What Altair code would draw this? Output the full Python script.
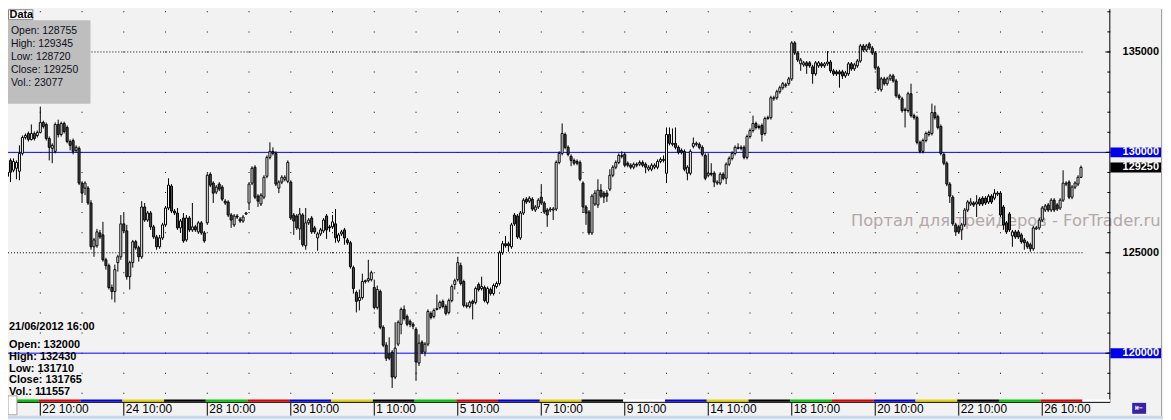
import altair as alt
import pandas as pd

# ---------------- data (hourly candles) ----------------
opens = [
    129500, 129010, 129600, 129110, 129210, 129060, 129950, 130740, 130940, 130640, 130940, 130840,
    130990, 131490, 131390, 130690, 130200, 130050, 131390, 130890, 131440, 131240, 130540, 130590, 130100, 130200,
    128470, 128220, 128220, 127480, 125300, 125350, 125990, 125890, 124650, 124360, 123270, 123070, 124510, 124800,
    126440, 126090, 123810, 124510, 125550, 125250, 124800, 127280, 126630, 126980, 126290, 125790, 125300, 125740,
    126390, 127230, 128320, 127080, 126980, 126240, 126730, 125640, 126730, 126140, 126290, 126040, 126490, 125990,
    126490, 128910, 128470, 128020, 128420, 128270, 127570, 127530, 126880, 126390, 126830, 126680, 126580, 126930,
    127480, 128470, 129260, 127820, 127430, 127770, 128810, 129750, 130050, 129950, 128220, 128520, 128660, 128560,
    128520, 126880, 126830, 126190, 126880, 125350, 126490, 126730, 126240, 125740, 125940, 126090, 126830, 126290,
    126290, 126440, 125590, 125940, 126140, 125640, 125500, 124260, 123020, 122620, 122770, 123570, 123610, 123660,
    123270, 122280, 123070, 121290, 120400, 119950, 120050, 118810, 120450, 121440, 122180, 121830, 121590, 121440,
    121190, 119510, 120550, 120050, 120450, 121980, 121830, 122180, 122280, 122580, 122330, 122030, 122620, 123420,
    123660, 124360, 123570, 122330, 122330, 122580, 122530, 123420, 123220, 123270, 122530, 123170, 122970, 123320,
    123470, 125000, 125450, 125450, 125300, 126880, 126830, 125740, 126980, 127670, 127570, 127670, 127130, 127280,
    127770, 127480, 127130, 127130, 127130, 127180, 129500, 129950, 130890, 130250, 129800, 129600, 129550, 129500,
    128470, 127280, 127030, 125990, 127430, 127380, 128120, 127970, 127970, 128170, 128860, 129260, 129500, 129800,
    129900, 129460, 129360, 129260, 129410, 129410, 129500, 129410, 129160, 129160, 129260, 129260, 129550, 129600,
    128960, 130890, 130400, 130450, 130250, 130100, 130050, 128960, 128960, 130300, 130400, 130400, 130250, 129850,
    128860, 128960, 128960, 128470, 128470, 128910, 128710, 129410, 129700, 129950, 130200, 130200, 130250, 129750,
    130790, 131090, 131440, 131240, 131340, 130940, 131680, 131730, 132670, 132720, 133020, 133220, 133320, 133420,
    133660, 135450, 134950, 134410, 134360, 134460, 134460, 134260, 133910, 134310, 134410, 134310, 134410, 134500,
    134060, 134010, 134010, 134010, 133810, 133910, 134410, 134160, 134310, 134550, 135300, 135100, 135400, 135200,
    134950, 134210, 133120, 133660, 133420, 133660, 133810, 133560, 132820, 132670, 132080, 132080, 132920, 131830,
    131730, 130500, 130050, 130590, 130890, 130940, 131980, 131780, 131290, 129900, 129460, 128420, 127770, 126390,
    126290, 126140, 126390, 127130, 127430, 127480, 127430, 127670, 127720, 127720, 127530, 127820, 127720, 127920,
    127970, 127280, 126490, 126930, 125840, 126040, 126040, 125890, 125640, 125500, 125400, 125200, 126190, 126240,
    126630, 127130, 127380, 127130, 127620, 127380, 127230, 127620, 128420, 128520, 127770, 128270, 128420, 128755,
]
highs = [
    129700, 129110, 129700, 129700, 129600, 130350, 130840, 130940, 131040, 131390, 131040, 131090,
    132280, 131580, 131490, 130790, 130450, 131490, 131630, 131530, 131530, 131340, 130640, 130690, 130350, 130300,
    128560, 128560, 128320, 127620, 125740, 126190, 126140, 126540, 124750, 124460, 123420, 124410, 124900, 126880,
    126980, 126390, 124600, 125640, 125640, 125350, 127570, 127480, 127080, 127080, 126390, 125890, 125890, 126490,
    127330, 128710, 128420, 127180, 127230, 126680, 126980, 126880, 126830, 127480, 126390, 126580, 126580, 126090,
    128960, 129010, 128560, 128370, 128520, 128370, 127670, 127620, 126980, 126930, 126930, 126780, 126880, 127030,
    128520, 129310, 129360, 127920, 127970, 128860, 129850, 130500, 130250, 130050, 128610, 128860, 128860, 129600,
    128610, 126980, 126930, 127230, 126980, 127230, 126730, 126830, 126340, 126040, 126240, 126730, 126930, 126390,
    126880, 127180, 125990, 126140, 126240, 125740, 125590, 124360, 123120, 123170, 123960, 123660, 124650, 124110,
    123660, 123370, 123170, 121390, 120550, 120790, 120150, 121540, 121630, 122280, 122380, 121930, 121680, 121540,
    121290, 120940, 120640, 120550, 122180, 122080, 122230, 122920, 122620, 122670, 122430, 122720, 123420, 123710,
    124800, 124510, 123660, 122530, 122620, 122670, 123320, 123520, 123810, 123370, 123320, 123270, 123470, 123570,
    125100, 125590, 125840, 125550, 126490, 126980, 126930, 127080, 127720, 127770, 127820, 127770, 127380, 127720,
    128420, 127570, 127230, 127280, 127280, 129600, 130050, 131440, 130990, 130350, 129900, 129700, 129650, 129600,
    128560, 127380, 127130, 127920, 128120, 128660, 128420, 128070, 128120, 129160, 129360, 129600, 129950, 130050,
    130000, 129550, 129460, 129500, 129500, 129600, 129600, 129500, 129360, 129460, 129460, 129650, 129750, 129850,
    131240, 131240, 131190, 131240, 130350, 130200, 130150, 129360, 130150, 130740, 130540, 130500, 130350, 129950,
    129950, 129460, 129060, 128610, 129010, 129010, 129500, 129800, 130050, 130350, 130450, 130350, 130350, 130890,
    131190, 131830, 131530, 131390, 131440, 131780, 131830, 132820, 132820, 133120, 133320, 133510, 133470, 133760,
    135540, 135540, 135050, 134700, 134550, 134550, 134550, 134360, 134550, 134550, 134500, 134500, 135050, 134600,
    134160, 134110, 134110, 134110, 134060, 134500, 134500, 134460, 134650, 135400, 135400, 135400, 135490, 135300,
    135050, 134310, 133760, 133760, 133760, 133910, 133910, 133660, 132920, 132770, 132230, 133020, 133420, 131930,
    131830, 130590, 130690, 131040, 131090, 132430, 132330, 131880, 131390, 130000, 129550, 128520, 127870, 126490,
    126390, 126490, 127230, 127620, 127720, 127570, 127870, 127770, 127820, 127820, 127920, 127920, 128170, 128070,
    128070, 127380, 126580, 127030, 126140, 126140, 126140, 125990, 125740, 125590, 125500, 126340, 126340, 126730,
    127330, 127430, 127480, 127720, 127720, 127480, 127720, 129110, 128560, 128610, 128370, 128560, 128860, 129345,
]
lows = [
    128860, 128610, 128520, 129010, 128660, 128610, 129850, 130640, 130540, 130590, 130590, 130740,
    130940, 131190, 130590, 129600, 129460, 129950, 130740, 130790, 130940, 130450, 130100, 129900, 130000, 128370,
    127480, 127870, 127380, 125150, 124800, 125250, 125690, 124560, 124160, 123170, 122670, 122530, 124060, 124650,
    125990, 123660, 123170, 124260, 125150, 124560, 124700, 126540, 126540, 126140, 125690, 125150, 125200, 125640,
    126290, 127130, 126980, 126880, 126140, 125990, 125500, 125550, 126040, 126040, 126040, 125940, 125890, 125500,
    126390, 128270, 127480, 127920, 128070, 127570, 127380, 126780, 126240, 126290, 126680, 126490, 126490, 126880,
    127130, 128370, 127670, 127280, 127330, 127670, 128710, 129650, 129850, 128320, 127970, 128420, 128560, 128470,
    126630, 125890, 126140, 125640, 125300, 125150, 126390, 125940, 125940, 125100, 125840, 125990, 125690, 126040,
    126190, 125500, 125500, 125840, 125400, 125400, 124210, 122970, 122030, 122130, 122670, 123470, 123520, 123570,
    122180, 122180, 121190, 120300, 119610, 119650, 118270, 118710, 120350, 120940, 121630, 121340, 121290, 121190,
    118620, 119360, 119950, 119850, 120350, 121680, 121730, 122130, 122180, 122230, 121880, 121930, 122530, 123170,
    123570, 123370, 122280, 122230, 122230, 121680, 122430, 123070, 123120, 122530, 122430, 122870, 122870, 123220,
    123370, 124900, 125250, 125050, 125200, 126340, 125690, 125640, 126880, 127430, 127480, 127080, 127030, 127180,
    127380, 126930, 126290, 127030, 126630, 127080, 129410, 129850, 130150, 129800, 129310, 129360, 129360, 128560,
    126980, 126390, 125890, 125890, 127330, 127230, 127720, 127480, 127530, 128070, 128760, 129160, 129410, 129700,
    129260, 129260, 129160, 129160, 129260, 129310, 129260, 128960, 129060, 129060, 129160, 129160, 129460, 129500,
    128470, 130350, 130300, 130150, 129900, 129900, 129060, 128610, 128860, 130200, 130300, 130150, 129800, 128610,
    128760, 128810, 128270, 128370, 128370, 128610, 128420, 129310, 129600, 129850, 130150, 130100, 129650, 129650,
    130690, 130990, 131140, 131140, 130540, 130840, 131630, 131630, 132570, 132620, 132920, 133120, 133220, 133320,
    133560, 134850, 134500, 134060, 134260, 133910, 134210, 133420, 133810, 134210, 134210, 134210, 134310, 133960,
    133810, 133810, 133220, 133660, 133710, 133810, 134060, 134060, 134210, 134460, 135000, 135000, 135100, 134850,
    134110, 133070, 133020, 133320, 133320, 133560, 133470, 132720, 132620, 131980, 131240, 131980, 131730, 131630,
    130400, 129950, 129950, 130500, 130790, 130840, 131630, 131140, 129850, 129360, 128320, 127480, 126340, 125840,
    125940, 125640, 126290, 127030, 127330, 127280, 126780, 127330, 127330, 127380, 127430, 127430, 127620, 127820,
    126780, 126140, 125940, 126040, 125300, 125690, 125690, 125450, 125150, 125200, 125050, 125100, 126140, 126140,
    126540, 127030, 127030, 127030, 127030, 127080, 127130, 127530, 128320, 127670, 127670, 128170, 128320, 128720,
]
closes = [
    128960, 128810, 129010, 129550, 129500, 129950, 130740, 130840, 130640, 130940, 130690, 130990,
    131490, 131290, 130690, 130250, 130350, 131390, 130890, 131440, 131040, 130540, 130350, 130050, 130250, 128470,
    127970, 128470, 127480, 125300, 125640, 126040, 125790, 124650, 124360, 123270, 123070, 124160, 124800, 126440,
    126090, 123810, 124510, 125550, 125250, 124800, 127280, 126630, 126980, 126290, 125790, 125300, 125740, 126390,
    127230, 128370, 127080, 126980, 126240, 126580, 125590, 126730, 126140, 126290, 126140, 126490, 125990, 125590,
    128860, 128370, 127970, 128270, 128170, 127670, 127480, 126880, 126630, 126830, 126780, 126580, 126780, 126980,
    128420, 129210, 127770, 127570, 127870, 128760, 129750, 130050, 129950, 128420, 128520, 128760, 128760, 129500,
    126730, 126580, 126240, 126930, 125400, 126490, 126630, 126040, 126040, 125940, 126140, 126630, 126140, 126240,
    126540, 125740, 125890, 126040, 125740, 125500, 124310, 123220, 122580, 122770, 123570, 123610, 123710, 124010,
    122280, 123170, 121290, 120400, 119750, 119750, 118810, 120250, 121540, 122180, 121730, 121440, 121440, 121340,
    119560, 120500, 120050, 120450, 122080, 121780, 122130, 122230, 122530, 122330, 121980, 122620, 123320, 123610,
    124510, 123470, 122380, 122380, 122530, 122480, 123220, 123170, 123320, 122620, 123220, 122970, 123370, 123470,
    125000, 125450, 125350, 125350, 126390, 126440, 125790, 126980, 127620, 127530, 127720, 127180, 127280, 127620,
    127480, 127030, 126880, 127180, 127180, 129500, 129950, 130940, 130250, 129900, 129600, 129460, 129460, 128660,
    127280, 126980, 125990, 127820, 127970, 128120, 127820, 127770, 127820, 128860, 129260, 129500, 129850, 129850,
    129360, 129360, 129260, 129410, 129360, 129500, 129360, 129260, 129260, 129360, 129360, 129550, 129650, 129650,
    130890, 130450, 130450, 130250, 130000, 130000, 129160, 129260, 130050, 130450, 130450, 130250, 129900, 128710,
    128960, 128910, 128520, 128520, 128910, 128710, 129410, 129700, 129950, 130250, 130250, 130250, 129750, 130790,
    131090, 131440, 131240, 131290, 130890, 131680, 131730, 132720, 132720, 133020, 133220, 133420, 133370, 133660,
    135450, 134950, 134600, 134600, 134460, 134310, 134310, 133910, 134460, 134460, 134310, 134410, 134500, 134060,
    133910, 133910, 133910, 133810, 133960, 134410, 134160, 134360, 134550, 135300, 135100, 135300, 135200, 134950,
    134210, 133170, 133660, 133420, 133660, 133810, 133560, 132820, 132720, 132080, 132130, 132920, 131830, 131730,
    130500, 130050, 130590, 130940, 130990, 131980, 131730, 131240, 129950, 129460, 128420, 127820, 126440, 126040,
    126040, 126390, 127130, 127530, 127530, 127380, 127530, 127430, 127430, 127480, 127820, 127530, 127970, 127970,
    126880, 126390, 126040, 126140, 126040, 125790, 125790, 125550, 125500, 125300, 125200, 126240, 126240, 126630,
    127230, 127330, 127130, 127620, 127130, 127180, 127620, 128470, 128470, 127770, 128270, 128470, 128760, 129250,
]

first_day_bars = 12          # the first (partial) session in view
bars_per_day = 14            # hourly bars per session
day_labels = ["22 10:00", "24 10:00", "28 10:00", "30 10:00", "1 10:00", "5 10:00", "7 10:00",
              "9 10:00", "14 10:00", "18 10:00", "20 10:00", "22 10:00", "26 10:00"]
day_colors = ["#00c800", "#e00000", "#0000e0", "#e6d200", "#000000", "#00c800", "#e00000",
              "#0000e0", "#e6d200", "#000000", "#00c800", "#e00000", "#0000e0", "#e6d200",
              "#000000", "#ffffff", "#0000e0", "#e6d200", "#000000", "#00c800", "#e00000",
              "#0000e0", "#e6d200", "#000000", "#00c800", "#e00000", "#ffffff"]

blue_levels = [130000, 120000]
dotted_levels = [135000, 125000]
axis_label_levels = [135000, 125000]
grid_levels = list(range(118000, 137001, 1000))

top_info = ["Open: 128755", "High: 129345", "Low: 128720", "Close: 129250", "Vol.: 23077"]
bottom_title = "21/06/2012 16:00"
bottom_info = ["Open: 132000", "High: 132430", "Low: 131710", "Close: 131765", "Vol.: 111557"]
watermark = "Портал для трейдеров - ForTrader.ru"

# ---------------- layout ----------------
W, H = 1109, 393
PRICE_PER_PX = 49.5
Y1 = 130000 + 144 * PRICE_PER_PX
Y0 = Y1 - H * PRICE_PER_PX
X0 = 3.5 / 3
X1 = (W + 3.5) / 3

xs = alt.Scale(domain=[X0, X1], nice=False, zero=False)
ys = alt.Scale(domain=[Y0, Y1], nice=False, zero=False)


def X(f):
    return alt.X(f, type="quantitative", scale=xs, axis=None)


def Y(f):
    return alt.Y(f, type="quantitative", scale=ys, axis=None)


n = len(closes)
candles = pd.DataFrame({"i": list(range(n)), "o": opens, "h": highs, "l": lows, "c": closes})
candles["dir"] = ["up" if c >= o else "down" for o, c in zip(opens, closes)]
candles["x0"] = candles["i"] - 1 / 3
candles["x1"] = candles["i"] + 1 / 3

n_days = (n - first_day_bars) // bars_per_day
day_starts = [first_day_bars + k * bars_per_day for k in range(n_days)]
edges = [X0] + [s - 0.5 for s in day_starts] + [n - 0.5, X1]
strip = pd.DataFrame({"s": edges[:-1], "e": edges[1:], "col": day_colors})
label_df = pd.DataFrame({"i": day_starts[::2], "t": day_labels})
grid_df = pd.DataFrame([{"i": s, "p": p} for s in day_starts for p in grid_levels])
dotted_df = pd.DataFrame({"p": dotted_levels, "xs": X0, "xe": n - 0.5})
blue_df = pd.DataFrame({"p": blue_levels})
tick_df = pd.DataFrame({"p": grid_levels})
major_df = pd.DataFrame({"p": [p for p in grid_levels if p % 5000 == 0]})
lab_df = pd.DataFrame({"p": axis_label_levels, "t": [str(v) for v in axis_label_levels]})
badge_df = pd.DataFrame({"p": blue_levels + [closes[-1]],
                         "t": [str(v) for v in blue_levels + [closes[-1]]],
                         "col": ["#0000e6", "#0000e6", "#000000"]})
one = pd.DataFrame({"a": [1]})

LAB_FONT = "Liberation Sans"

grid = alt.Chart(grid_df).mark_square(size=1, color="#000000", opacity=1, clip=True).encode(
    x=X("i"), y=Y("p"))

wm = alt.Chart(one).mark_text(text=watermark, align="left", baseline="middle", font="DejaVu Sans",
                              fontSize=16.4, color="#b3a8a8").encode(x=alt.value(848), y=alt.value(213))

dotted = alt.Chart(dotted_df).mark_rule(color="#000000", strokeDash=[1, 2], clip=True).encode(
    x=X("xs"), x2="xe", y=Y("p"))

blue = alt.Chart(blue_df).mark_rule(color="#0000ff", strokeWidth=1).encode(
    x=alt.value(0), x2=alt.value(W), y=Y("p"))

wicks = alt.Chart(candles).mark_rule(color="#000000", strokeWidth=1, clip=True).encode(
    x=X("i"), y=Y("l"), y2="h")

bodies = alt.Chart(candles).mark_rect(stroke="#000000", strokeWidth=1, clip=True).encode(
    x=X("x0"), x2="x1", y=Y("o"), y2="c",
    fill=alt.Fill("dir:N", scale=alt.Scale(domain=["up", "down"], range=["#ffffff", "#4d4d4d"]),
                  legend=None))

axis_line = alt.Chart(one).mark_rule(color="#000000").encode(
    x=alt.value(W - 0.5), y=alt.value(0), y2=alt.value(H + 2))
minor_ticks = alt.Chart(tick_df).mark_rule(color="#000000").encode(
    x=alt.value(W - 3), x2=alt.value(W), y=Y("p"))
major_ticks = alt.Chart(major_df).mark_rule(color="#000000").encode(
    x=alt.value(W - 5), x2=alt.value(W), y=Y("p"))
ax_labels = alt.Chart(lab_df).mark_text(align="right", baseline="middle", font=LAB_FONT,
                                         fontWeight="bold", fontSize=11, color="#000000").encode(
    x=alt.value(W + 49), y=Y("p"), text="t:N")
badges = alt.Chart(badge_df).mark_tick(orient="horizontal", size=51, thickness=10, opacity=1).encode(
    x=alt.value(W + 25.5), y=Y("p"), color=alt.Color("col:N", scale=None))
badge_txt = alt.Chart(badge_df).mark_text(align="right", baseline="middle", font=LAB_FONT,
                                           fontWeight="bold", fontSize=11, color="#ffffff").encode(
    x=alt.value(W + 49), y=Y("p"), text="t:N")

strip_l = alt.Chart(strip).mark_rect().encode(
    x=X("s"), x2="e", y=alt.value(H - 0.5), y2=alt.value(H + 2), color=alt.Color("col:N", scale=None))
frame_bottom = alt.Chart(one).mark_rule(color="#000000").encode(
    x=alt.value(0), x2=alt.value(W), y=alt.value(H + 2.5))
xticks = alt.Chart(label_df).mark_rule(color="#000000").encode(
    x=X("i"), y=alt.value(H + 3), y2=alt.value(H + 16))
xlabels = alt.Chart(label_df).mark_text(align="left", baseline="middle", font=LAB_FONT, fontSize=12,
                                         color="#000000", dx=2).encode(
    x=X("i"), y=alt.value(H + 9.5), text="t:N")
corner_box = alt.Chart(one).mark_rect(fill="#ffffff", stroke="#a0a0a0").encode(
    x=alt.value(0), x2=alt.value(9), y=alt.value(H - 4), y2=alt.value(H + 15))
bottom_bar = alt.Chart(one).mark_rect(color="#c5d8ee").encode(
    x=alt.value(0), x2=alt.value(W + 54), y=alt.value(H + 16), y2=alt.value(H + 19))
right_frame = alt.Chart(one).mark_rule(color="#a0a0a0").encode(
    x=alt.value(W + 51.5), y=alt.value(0), y2=alt.value(H + 16))
icon = alt.Chart(one).mark_rect(color="#3a22a8").encode(
    x=alt.value(W + 22), x2=alt.value(W + 36), y=alt.value(H + 3), y2=alt.value(H + 14))
icon_txt = alt.Chart(one).mark_text(text="⇤", align="center", baseline="middle", fontSize=10,
                                    font="DejaVu Sans", color="#ffffff").encode(
    x=alt.value(W + 29), y=alt.value(H + 8.5))

info_box = alt.Chart(one).mark_rect(color="#bebebe").encode(
    x=alt.value(0), x2=alt.value(83), y=alt.value(11), y2=alt.value(95))
info_txt = alt.Chart(one).mark_text(text=top_info, lineHeight=13, align="left", baseline="alphabetic",
                                    font=LAB_FONT, fontSize=10.5, color="#101020").encode(
    x=alt.value(3), y=alt.value(25))
data_tab = alt.Chart(one).mark_rect(fill="#ffffff", stroke="#808080").encode(
    x=alt.value(0.5), x2=alt.value(25), y=alt.value(0.5), y2=alt.value(10.5))
data_txt = alt.Chart(one).mark_text(text="Data", align="left", baseline="alphabetic", font=LAB_FONT,
                                    fontWeight="bold", fontSize=11, color="#000000").encode(
    x=alt.value(1.5), y=alt.value(9))
bot_title = alt.Chart(one).mark_text(text=bottom_title, align="left", baseline="middle", font=LAB_FONT,
                                     fontWeight="bold", fontSize=11, color="#000000").encode(
    x=alt.value(1), y=alt.value(320))
bot_txt = alt.Chart(one).mark_text(text=bottom_info, lineHeight=11.8, align="left", baseline="alphabetic",
                                   font=LAB_FONT, fontWeight="bold", fontSize=11, color="#000000").encode(
    x=alt.value(1), y=alt.value(341))

chart = alt.layer(
    grid, wm, dotted, blue, wicks, bodies,
    axis_line, minor_ticks, major_ticks, ax_labels, badges, badge_txt,
    strip_l, frame_bottom, xticks, xlabels, corner_box, bottom_bar, right_frame, icon, icon_txt,
    info_box, info_txt, data_tab, data_txt, bot_title, bot_txt,
).properties(
    width=W, height=H,
    autosize=alt.AutoSizeParams(type="none"),
    padding={"left": 0, "top": 0, "right": 53, "bottom": 19},
    background="#f2f2f2",
).configure_view(strokeWidth=0, fill="#f2f2f2")

chart.save("out.html", embed_options={"renderer": "svg", "actions": False})
